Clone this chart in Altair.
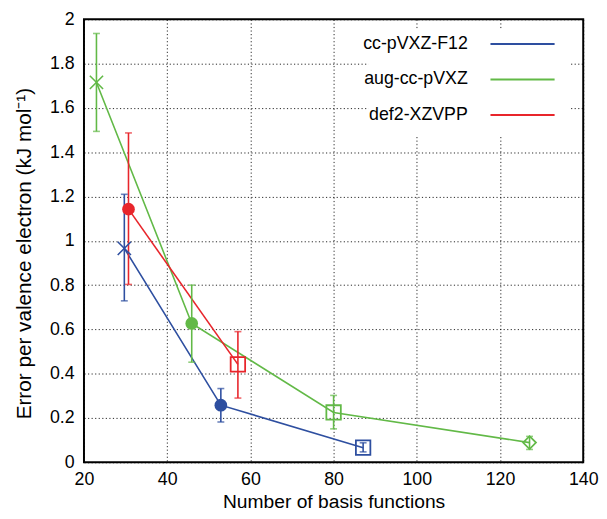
import altair as alt
import pandas as pd

series_names = ["cc-pVXZ-F12", "aug-cc-pVXZ", "def2-XZVPP"]
colors = ["#2e4fa0", "#62b947", "#e8252b"]

series = ["cc-pVXZ-F12"] * 3 + ["aug-cc-pVXZ"] * 4 + ["def2-XZVPP"] * 2
nbf = [29.7, 52.9, 87.1, 23.0, 45.9, 80.0, 127.1, 30.7, 57.0]
err = [0.966, 0.258, 0.066, 1.715, 0.627, 0.225, 0.089, 1.143, 0.442]
err_lo = [0.729, 0.182, 0.047, 1.494, 0.452, 0.151, 0.058, 0.803, 0.29]
err_hi = [1.21, 0.333, 0.088, 1.936, 0.80, 0.302, 0.117, 1.487, 0.59]
marker = ["x", "circle", "square", "x", "circle", "square", "diamond", "circle", "square"]

x_ticks = [20, 40, 60, 80, 100, 120, 140]
y_ticks = [0, 0.2, 0.4, 0.6, 0.8, 1.0, 1.2, 1.4, 1.6, 1.8, 2.0]

df = pd.DataFrame({"series": series, "nbf": nbf, "err": err,
                   "lo": err_lo, "hi": err_hi, "marker": marker})
df["order"] = df["nbf"]

FONT = "Liberation Sans"
W, H = 506, 449

xs = alt.Scale(domain=[20, 140], nice=False, zero=False)
ys = alt.Scale(domain=[0, 2], nice=False)
cs = alt.Scale(domain=series_names, range=colors)

X = alt.X("nbf:Q", scale=xs,
          axis=alt.Axis(values=x_ticks, title="Number of basis functions",
                        grid=True, ticks=False, domain=False, labelPadding=8,
                        titleY=46, titleBaseline="alphabetic", titleFontSize=19.5,
                        labelFlush=False, format="d"))
Y = alt.Y("err:Q", scale=ys,
          axis=alt.Axis(values=y_ticks, title="Error per valence electron (kJ mol⁻¹)",
                        grid=True, ticks=False, domain=False, labelPadding=10,
                        titleX=-54, titleY=237, titleBaseline="alphabetic",
                        titleFontSize=21, labelFlush=False,
                        labelExpr="datum.value == 0 || datum.value == 1 || datum.value == 2 ? format(datum.value, 'd') : format(datum.value, '.1f')"))
C = alt.Color("series:N", scale=cs, legend=None)

base = alt.Chart(df)

# legend background (covers grid like the reference key)
legend_bg = alt.Chart(pd.DataFrame({"a": [0]})).mark_rect(color="white").encode(
    x=alt.value(288), x2=alt.value(492), y=alt.value(10), y2=alt.value(118))

lines = base.mark_line(strokeWidth=1.6).encode(x=X, y=Y, color=C, order="order:Q")

bars = base.mark_rule(strokeWidth=1.6).encode(x="nbf:Q", y="lo:Q", y2="hi:Q", color=C)
cap_lo = base.mark_tick(orient="horizontal", size=7, thickness=1.6).encode(
    x="nbf:Q", y="lo:Q", color=C)
cap_hi = base.mark_tick(orient="horizontal", size=7, thickness=1.6).encode(
    x="nbf:Q", y="hi:Q", color=C)

circles = base.transform_filter(alt.datum.marker == "circle").mark_point(
    shape="circle", filled=True, opacity=1, size=165).encode(
    x="nbf:Q", y="err:Q", color=C)
squares = base.transform_filter(alt.datum.marker == "square").mark_point(
    shape="square", filled=False, opacity=1, size=215, strokeWidth=1.8).encode(
    x="nbf:Q", y="err:Q", color=C)
diamonds = base.transform_filter(alt.datum.marker == "diamond").mark_point(
    shape="diamond", filled=False, opacity=1, size=170, strokeWidth=1.8).encode(
    x="nbf:Q", y="err:Q", color=C)
crosses = base.transform_filter(alt.datum.marker == "x").mark_point(
    shape="M-1,-1L1,1M-1,1L1,-1", filled=False, opacity=1, size=180, strokeWidth=1.6).encode(
    x="nbf:Q", y="err:Q", color=C)

# manual key: label to the left of the line sample
legend_layers = []
for i, (name, col) in enumerate(zip(series_names, colors)):
    yy = 25 + 36 * i
    ldf = pd.DataFrame({"label": [name]})
    legend_layers.append(
        alt.Chart(ldf).mark_text(align="right", baseline="middle", font=FONT,
                                 fontSize=18, color="black").encode(
            x=alt.value(389), y=alt.value(yy), text="label:N"))
    legend_layers.append(
        alt.Chart(ldf).mark_rule(color=col, strokeWidth=2).encode(
            x=alt.value(412), x2=alt.value(477), y=alt.value(yy)))

chart = alt.layer(
    lines, legend_bg, bars, cap_lo, cap_hi, circles, squares, diamonds, crosses,
    *legend_layers
).properties(
    width=W, height=H,
    autosize=alt.AutoSizeParams(type="none"),
    padding={"left": 77, "top": 8, "right": 16, "bottom": 54},
).configure_view(
    stroke="black", strokeWidth=2
).configure_axis(
    labelFont=FONT, titleFont=FONT, labelFontSize=18, titleFontSize=20,
    labelColor="black", titleColor="black", titleFontWeight="normal",
    gridColor="black", gridDash=[1.2, 2.4], gridWidth=1, gridOpacity=0.85,
)

chart.save("out.html", embed_options={"renderer": "svg", "actions": False})
